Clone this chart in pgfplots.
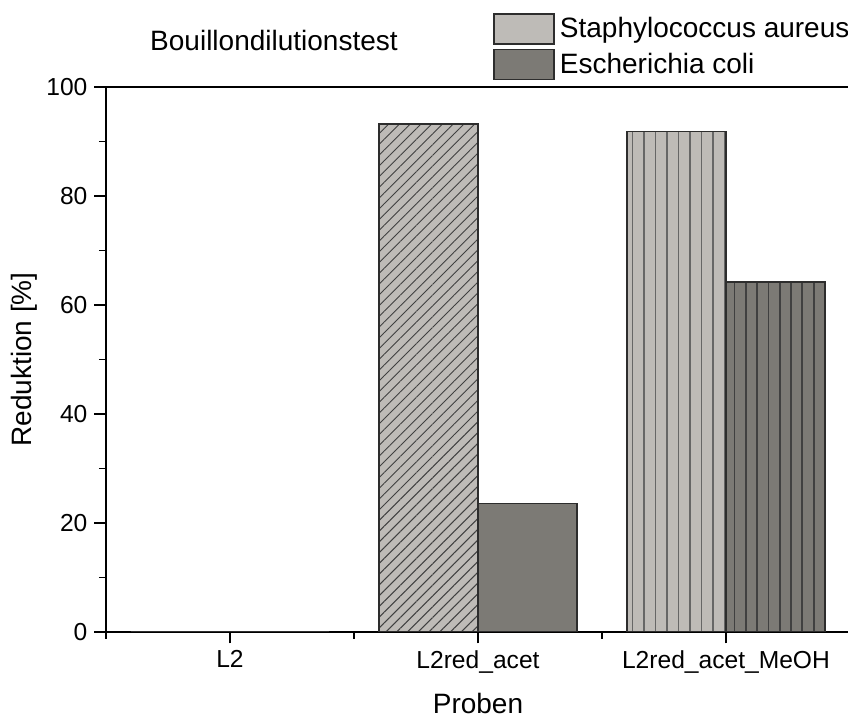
\documentclass[border=0pt]{standalone}
\usepackage{fontspec}
\setmainfont{Liberation Sans}
\usepackage{pgfplots}
\pgfplotsset{compat=1.18}
\usetikzlibrary{patterns.meta}
\definecolor{lightbar}{RGB}{190,187,183}
\definecolor{darkbar}{RGB}{124,122,117}
\definecolor{edge}{RGB}{45,45,45}

\begin{document}
\begin{tikzpicture}
\begin{axis}[
  at={(0,0)}, anchor=south west,
  scale only axis, width=372pt, height=272.5pt,
  ybar, bar width=0.4,
  xmin=-0.5, xmax=2.5, ymin=0, ymax=100,
  xtick={0,1,2},
  xticklabels={L2, L2red\_acet, L2red\_acet\_MeOH},
  minor xtick={-0.5,0.5,1.5,2.5},
  ytick={0,20,...,100}, minor y tick num=1,
  tick pos=left, tick align=outside,
  major tick length=5.75pt, minor tick length=3.5pt,
  tick style={black, line width=0.9pt},
  axis line style={line width=1pt},
  ticklabel style={font=\fontsize{12.3}{14}\selectfont},
  /pgf/number format/assume math mode=true,
  xlabel={Proben}, ylabel={Reduktion [\%]},
  label style={font=\fontsize{14}{16}\selectfont},
  xlabel style={at={(axis description cs:0.5,-0.1495)}, anchor=base},
  ylabel style={at={(axis description cs:-0.0995,0.5)}, anchor=base},
  title={Bouillondilutionstest},
  every axis title shift=0pt,
  title style={at={(axis description cs:0.2258,1.0661)}, anchor=base,
    font=\fontsize{14}{17}\selectfont},
  legend style={at={(axis description cs:0.5202,1.1358)}, anchor=north west,
    draw=none, fill=none, inner sep=0pt, nodes={inner sep=0pt},
    column sep=2.5pt, row sep=2pt, font=\fontsize{14}{16}\selectfont},
  legend cell align=left,
]
% Staphylococcus aureus
\addplot[forget plot, bar shift=-0.2, fill=lightbar, draw=edge, line width=0.75pt]
  coordinates {(0,0)};
\addplot[forget plot, bar shift=-0.2, fill=lightbar, draw=edge, line width=0.75pt,
  postaction={pattern={Lines[angle=45,distance=3.8pt,line width=0.5pt]}, pattern color=black!75}]
  coordinates {(1,93.2)};
\addplot[forget plot, bar shift=-0.2, fill=lightbar, draw=edge, line width=0.75pt,
  postaction={pattern={Lines[angle=90,distance=5.75pt,line width=0.9pt]}, pattern color=black!60}]
  coordinates {(2,91.8)};
% Escherichia coli
\addplot[forget plot, bar shift=0.2, fill=darkbar, draw=edge, line width=0.75pt]
  coordinates {(0,0) (1,23.6)};
\addplot[forget plot, bar shift=0.2, fill=darkbar, draw=edge, line width=0.75pt,
  postaction={pattern={Lines[angle=90,distance=5.65pt,line width=0.9pt]}, pattern color=black!75}]
  coordinates {(2,64.2)};

\addlegendimage{legend image code/.code={\draw[fill=lightbar, draw=edge, line width=0.75pt] (0pt,-7.5pt) rectangle (30pt,7.5pt);}}
\addlegendentry{Staphylococcus aureus}
\addlegendimage{legend image code/.code={\draw[fill=darkbar, draw=edge, line width=0.75pt] (0pt,-7.5pt) rectangle (30pt,7.5pt);}}
\addlegendentry{Escherichia coli}
\end{axis}
\pgfresetboundingbox
\path[use as bounding box] (-53pt,-42.5pt) rectangle (371pt,316pt);
\end{tikzpicture}
\end{document}
